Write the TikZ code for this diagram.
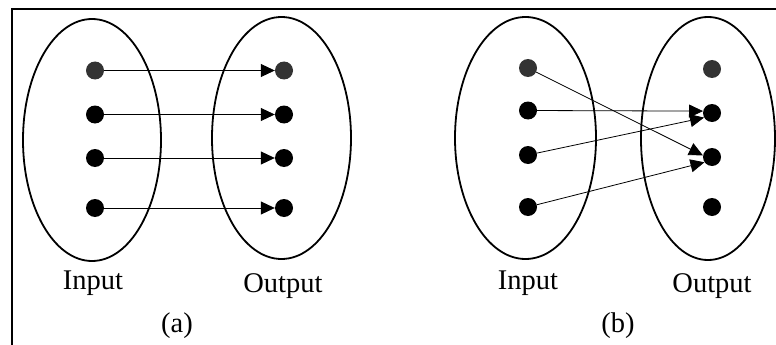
\documentclass[tikz,border=0pt]{standalone}
\usepackage{fontspec}
\setmainfont{Liberation Serif}
\usetikzlibrary{arrows.meta}
\begin{document}
\begin{tikzpicture}[x=1pt,y=-1pt,
  dotnode/.style={circle,fill=black,inner sep=0pt,minimum size=18pt},
  topdot/.style={dotnode,fill=black!80},
  setshape/.style={draw=black,line width=1.8pt},
  conn/.style={line width=0.8pt,-{Triangle[length=14pt,width=13pt]}},
  lbl/.style={font=\fontsize{28.5}{30}\selectfont,inner sep=0pt}]
\useasboundingbox (0,0) rectangle (776,345);
\draw[line width=1.4pt] (12,345) -- (12,9) -- (776,9);
% (a)
\draw[setshape] (92,140) ellipse [x radius=69, y radius=121];
\draw[setshape] (281.5,138) ellipse [x radius=69.5, y radius=121];
\node[topdot] (a1) at (95,70.5) {};
\node[dotnode] (a2) at (95,114.5) {};
\node[dotnode] (a3) at (95,158) {};
\node[dotnode] (a4) at (95,208) {};
\node[topdot] (b1) at (284,70.5) {};
\node[dotnode] (b2) at (284,114.5) {};
\node[dotnode] (b3) at (284,158) {};
\node[dotnode] (b4) at (284,208) {};
\draw[conn] (a1) -- (b1);
\draw[conn] (a2) -- (b2);
\draw[conn] (a3) -- (b3);
\draw[conn] (a4) -- (b4);
\node[lbl] (inA) at (93,283) {Input};
\node[lbl] (outA) at (283,286) {Output};
\node[lbl] (capA) at (177,326) {(a)};
% (b)
\draw[setshape] (525.5,138) ellipse [x radius=70.5, y radius=121];
\draw[setshape] (708,138.5) ellipse [x radius=67, y radius=121.5];
\node[topdot] (c1) at (528,68) {};
\node[dotnode] (c2) at (528,110.5) {};
\node[dotnode] (c3) at (528,155) {};
\node[dotnode] (c4) at (528,207) {};
\node[topdot] (d1) at (712,69) {};
\node[dotnode] (d2) at (712,113) {};
\node[dotnode] (d3) at (712,157) {};
\node[dotnode] (d4) at (712,207) {};
\draw[conn] (c1) -- (d3.170);
\draw[conn] (c2) -- (d2.168);
\draw[conn] (c3) -- (d2.210);
\draw[conn] (c4) -- (d3.215);
\node[lbl] (inB) at (528,283) {Input};
\node[lbl] (outB) at (712,286) {Output};
\node[lbl] (capB) at (618,326) {(b)};
\end{tikzpicture}
\end{document}
